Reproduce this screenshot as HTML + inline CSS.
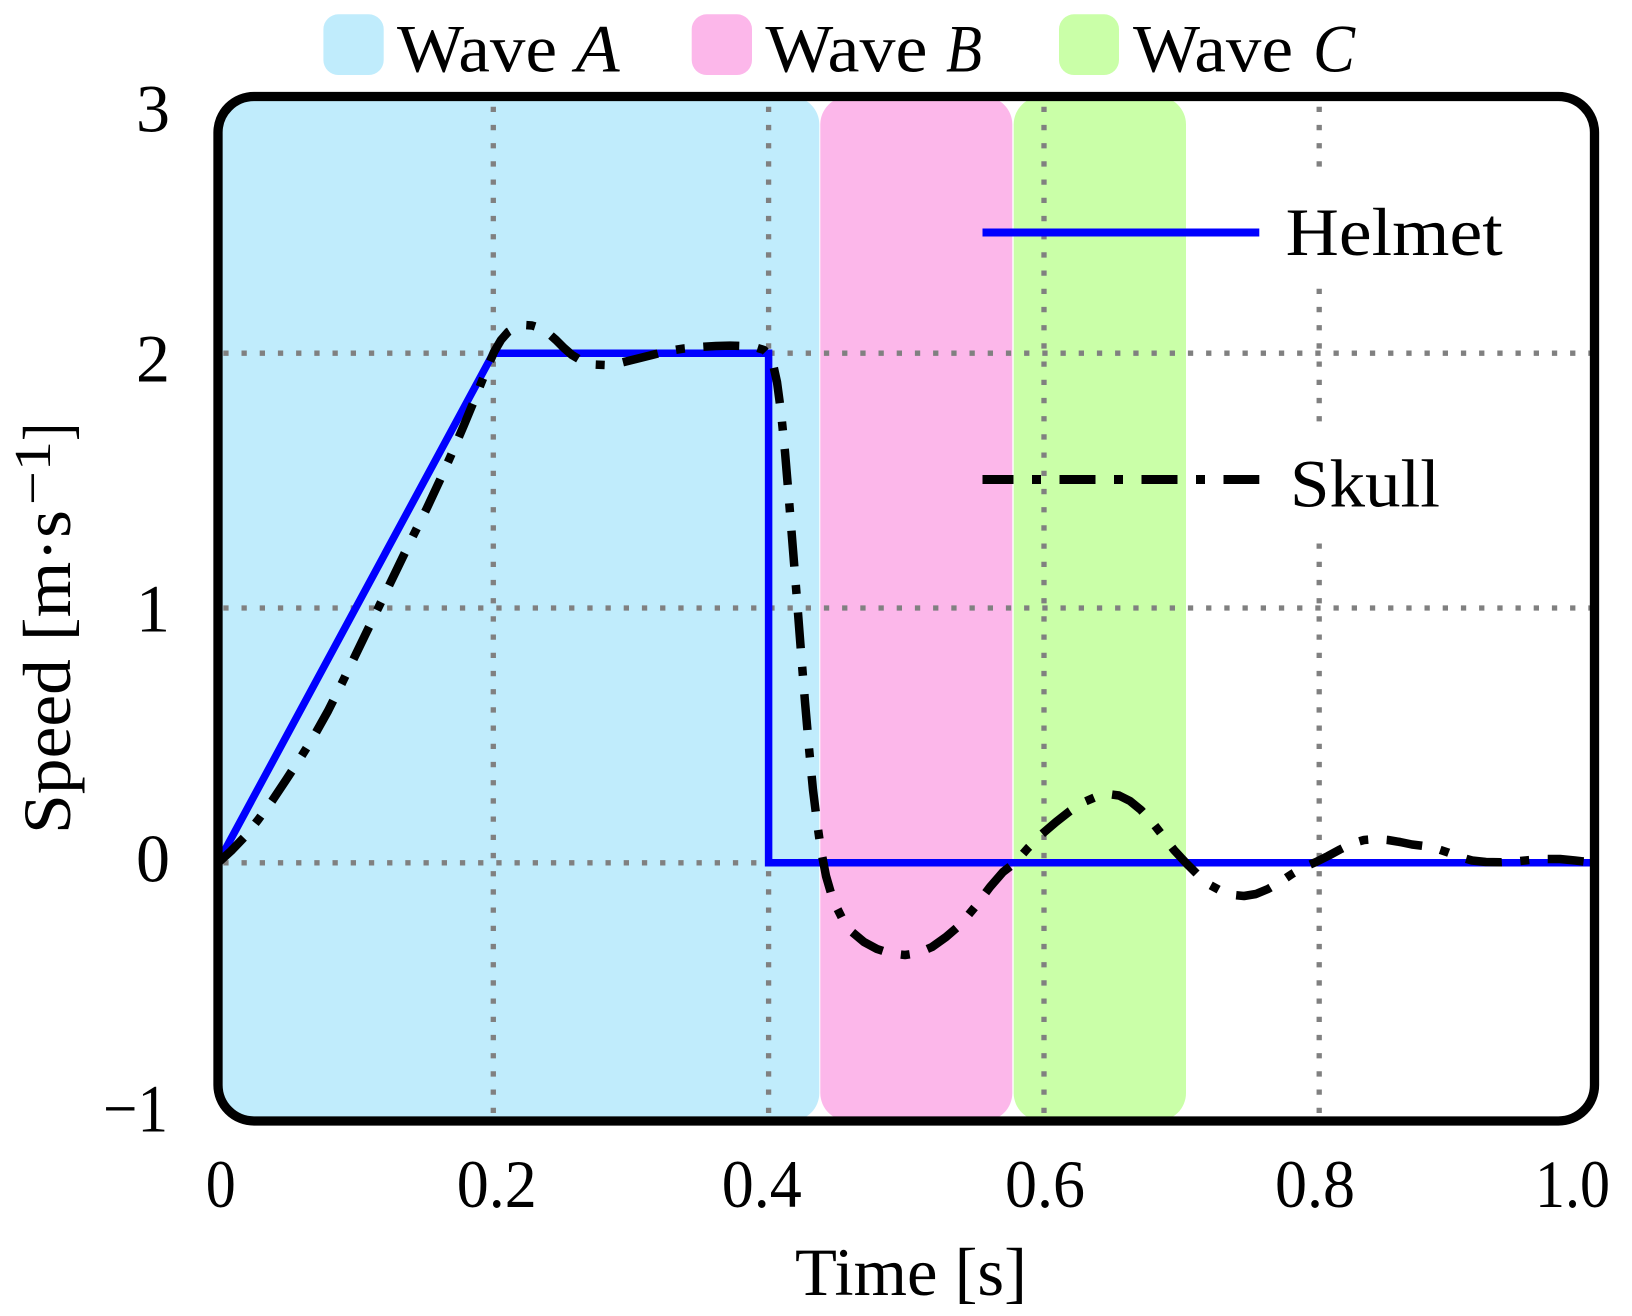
<!DOCTYPE html>
<html>
<head>
<meta charset="utf-8">
<style>
  html,body{margin:0;padding:0;background:#fff;}
  svg{display:block;}
  text{font-family:"Liberation Serif","DejaVu Serif",serif;fill:#000;}
</style>
</head>
<body>
<svg width="1632" height="1316" viewBox="0 0 1632 1316" xmlns="http://www.w3.org/2000/svg">
  <defs>
    <clipPath id="fr">
      <rect x="218" y="96.5" width="1376.5" height="1024.5" rx="36" ry="36"/>
    </clipPath>
  </defs>

  <!-- shaded wave regions -->
  <g clip-path="url(#fr)">
    <rect x="218" y="96.5" width="601.3" height="1024.5" rx="28" ry="28" fill="#c0ecfc"/>
    <rect x="820.3" y="96.5" width="192" height="1024.5" rx="28" ry="28" fill="#fcb7ea"/>
    <rect x="1013.7" y="96.5" width="172.3" height="1024.5" rx="28" ry="28" fill="#caffa8"/>
  </g>

  <!-- grid -->
  <g stroke="#808080" stroke-width="5.3" stroke-dasharray="5.3 12.9" fill="none" clip-path="url(#fr)">
    <line x1="223.3" y1="353.2" x2="1594" y2="353.2"/>
    <line x1="223.3" y1="608" x2="1594" y2="608"/>
    <line x1="223.3" y1="862.8" x2="1594" y2="862.8"/>
    <line x1="493.3" y1="106.7" x2="493.3" y2="1121"/>
    <line x1="768.6" y1="106.7" x2="768.6" y2="1121"/>
    <line x1="1044" y1="106.7" x2="1044" y2="1121"/>
    <line x1="1319.2" y1="106.7" x2="1319.2" y2="1121"/>
  </g>

  <!-- legend text background boxes -->
  <rect x="1270" y="175" width="250" height="113" fill="#fff"/>
  <rect x="1272" y="422" width="185" height="115" fill="#fff"/>

  <!-- series -->
  <g clip-path="url(#fr)">
    <polyline fill="none" stroke="#0000ff" stroke-width="7.5" stroke-linejoin="miter"
      points="218,862.8 493.3,353.2 768.6,353.2 768.6,862.8 1594.5,862.8"/>
    <polyline fill="none" stroke="#000" stroke-width="8.5" stroke-linejoin="round" stroke-linecap="butt"
      stroke-dasharray="36 18.5 9 18.5"
      points="218,862.8 231,851 245,836.5 258,820 272,801 286,780 300,758.5 314,736 328,711 342,683 356,654 370,625 384,596 398,567 412,538 426,510 440,480 452,453 464,425 476,396 486,371 494,352 501,340 508,332 516,327 524,325 532,325.5 540,328 548,333 556,340 564,348 572,355 582,361 594,364.5 606,365 620,363 636,359 652,355 668,351 684,348.5 700,347 716,346 730,345.6 744,346 756,347.5 764,350 769,355 773,364 777,382 781,412 785,452 789,500 793,550 797,600 801,652 805,702 809,748 813,790 817,822 821,850 826,876 833,900 842,918 852,932 864,942 877,949 891,953.5 905,955 918,953 932,947 946,937 960,925 975,907 990,887 1003,872 1015,862.8 1028,848 1042,834 1056,822 1070,811 1084,802 1097,796.5 1108,794 1119,795.5 1130,801 1141,810 1152,822 1163,836 1174,850 1186,863 1198,875 1210,885 1222,891.5 1234,895 1244,896 1256,894 1268,889 1280,882 1292,874 1304,867 1316,862 1328,856 1340,849.5 1352,843.5 1364,840 1376,839 1388,840 1400,842 1412,844.5 1424,846 1436,848.5 1448,852.5 1460,857 1472,860.5 1486,862 1500,862.3 1515,861.5 1530,860 1545,859 1560,859 1575,860.5 1594.5,862.8"/>
  </g>

  <!-- frame -->
  <rect x="218" y="96.5" width="1376.5" height="1024.5" rx="36" ry="36" fill="none" stroke="#000" stroke-width="9.3"/>

  <!-- inner legend -->
  <line x1="982.5" y1="232.5" x2="1259.3" y2="232.5" stroke="#0000ff" stroke-width="8"/>
  <text x="1285.7" y="255" font-size="68" textLength="217" lengthAdjust="spacingAndGlyphs">Helmet</text>
  <line x1="982.5" y1="479.5" x2="1259.3" y2="479.5" stroke="#000" stroke-width="9" stroke-dasharray="36 18.5 9 18.5" stroke-dashoffset="5"/>
  <text x="1290" y="506.7" font-size="68" textLength="150" lengthAdjust="spacingAndGlyphs">Skull</text>

  <!-- top legend -->
  <rect x="323.4" y="14.3" width="60.3" height="60.7" rx="15" ry="15" fill="#c0ecfc"/>
  <text x="397" y="71.7" font-size="68" textLength="160" lengthAdjust="spacingAndGlyphs">Wave</text>
  <text x="575.6" y="71.7" font-size="68" font-style="italic" textLength="44" lengthAdjust="spacingAndGlyphs">A</text>

  <rect x="691.7" y="14.3" width="60.3" height="60.7" rx="15" ry="15" fill="#fcb7ea"/>
  <text x="765.4" y="71.7" font-size="68" textLength="162" lengthAdjust="spacingAndGlyphs">Wave</text>
  <text x="946" y="71.7" font-size="68" font-style="italic" textLength="36" lengthAdjust="spacingAndGlyphs">B</text>

  <rect x="1059" y="14.3" width="60" height="60.7" rx="15" ry="15" fill="#caffa8"/>
  <text x="1133" y="71.7" font-size="68" textLength="160" lengthAdjust="spacingAndGlyphs">Wave</text>
  <text x="1313" y="71.7" font-size="68" font-style="italic" textLength="42" lengthAdjust="spacingAndGlyphs">C</text>

  <!-- x tick labels -->
  <text x="205.7" y="1207" font-size="68" textLength="30" lengthAdjust="spacingAndGlyphs">0</text>
  <text x="456.7" y="1207" font-size="68" textLength="80" lengthAdjust="spacingAndGlyphs">0.2</text>
  <text x="721.7" y="1207" font-size="68" textLength="80" lengthAdjust="spacingAndGlyphs">0.4</text>
  <text x="1005" y="1207" font-size="68" textLength="80" lengthAdjust="spacingAndGlyphs">0.6</text>
  <text x="1275" y="1207" font-size="68" textLength="80" lengthAdjust="spacingAndGlyphs">0.8</text>
  <text x="1535" y="1207" font-size="68" textLength="75" lengthAdjust="spacingAndGlyphs">1.0</text>

  <!-- y tick labels -->
  <text x="170" y="131.7" font-size="68" text-anchor="end">3</text>
  <text x="170" y="381.7" font-size="68" text-anchor="end">2</text>
  <text x="170" y="631.7" font-size="68" text-anchor="end">1</text>
  <text x="170" y="881.7" font-size="68" text-anchor="end">0</text>
  <text x="103" y="1131.7" font-size="68" textLength="65" lengthAdjust="spacingAndGlyphs">−1</text>

  <!-- axis labels -->
  <text x="795" y="1295" font-size="68" textLength="232" lengthAdjust="spacingAndGlyphs">Time [s]</text>

  <text transform="translate(70,834) rotate(-90)" x="0" y="0" font-size="68" textLength="324" lengthAdjust="spacingAndGlyphs">Speed [m·s</text>
  <text transform="translate(50,505) rotate(-90)" x="0" y="0" font-size="52" textLength="64" lengthAdjust="spacingAndGlyphs">−1</text>
  <text transform="translate(70,441) rotate(-90)" x="0" y="0" font-size="68" textLength="18" lengthAdjust="spacingAndGlyphs">]</text>
</svg>
</body>
</html>
